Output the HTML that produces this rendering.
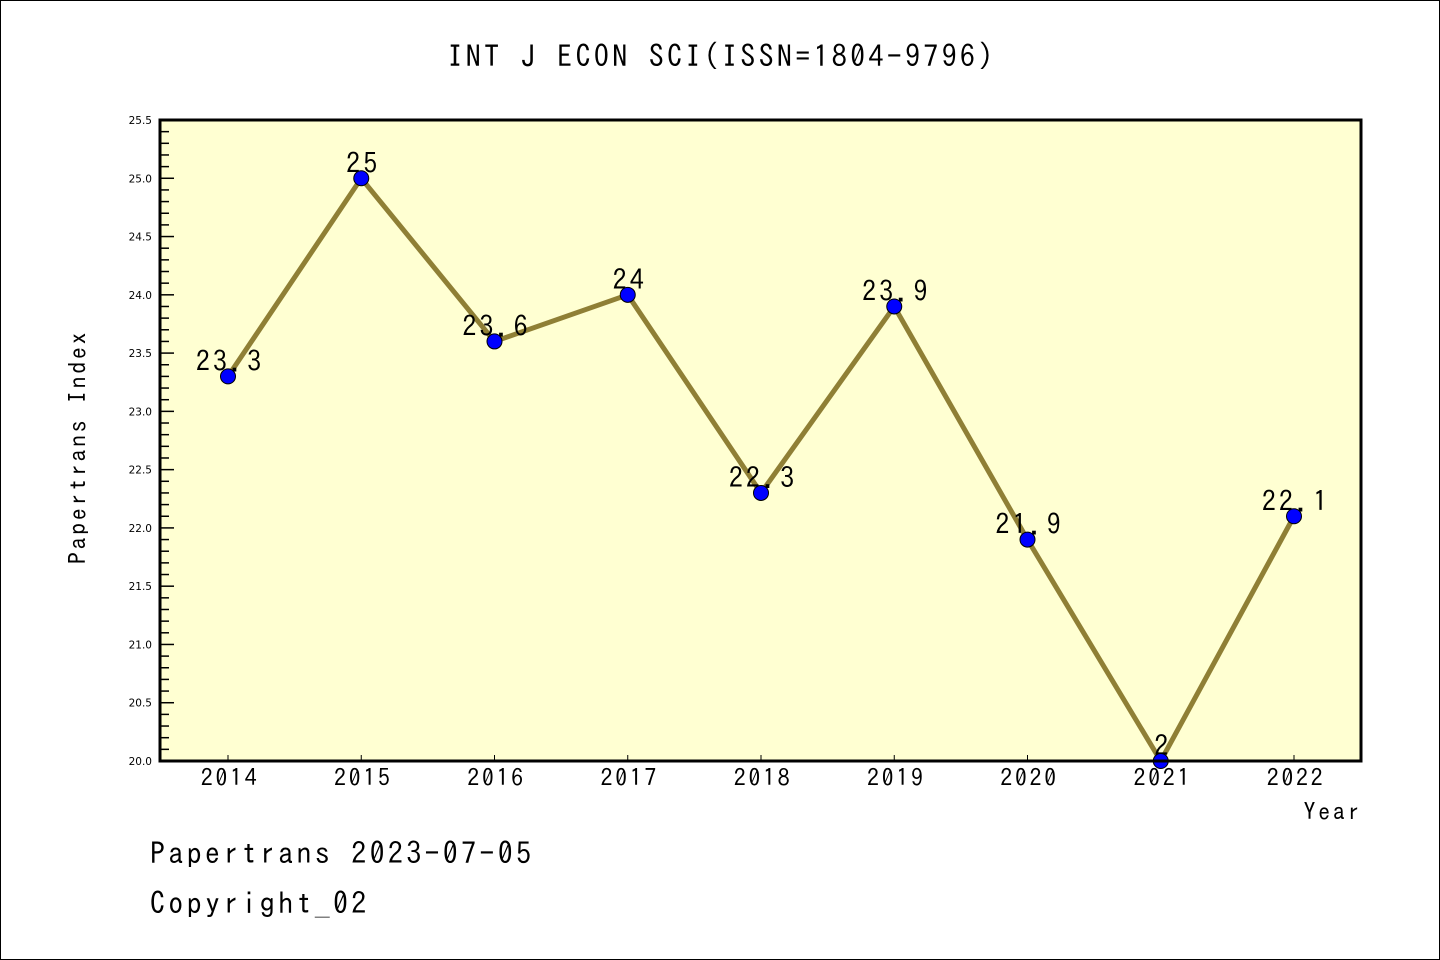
<!DOCTYPE html>
<html><head><meta charset="utf-8"><style>
html,body{margin:0;padding:0;background:#fff}
svg{display:block;font-family:"WenQuanYi Zen Hei Mono","WenQuanYi Zen Hei","IPAGothic","Liberation Sans",sans-serif}
svg text{letter-spacing:0.11em}
svg text.yl{letter-spacing:0;font-family:"DejaVu Sans","Liberation Sans",sans-serif}
</style></head><body>
<svg width="1440" height="960" viewBox="0 0 1440 960">
<rect x="0.5" y="0.5" width="1439" height="959" fill="#fff" stroke="#000"/>
<text x="722" y="67" font-size="30" text-anchor="middle">INT J ECON SCI(ISSN=1804-9796)</text>
<rect x="160" y="120" width="1201" height="641" fill="#ffffd2"/>
<g id="yaxis"></g>
<g id="xaxis"></g>
<g id="series"></g>
<rect x="160" y="120" width="1201" height="641" fill="none" stroke="#000" stroke-width="3"/>
<text x="86" y="447" font-size="24" text-anchor="middle" transform="rotate(-90 86 447)">Papertrans Index</text>
<text x="1362" y="820" font-size="24" text-anchor="end">Year</text>
<text x="150" y="864" font-size="30">Papertrans 2023-07-05</text>
<text x="150" y="914" font-size="30">Copyright_02</text>
</svg>
<script>
const years=["2014","2015","2016","2017","2018","2019","2020","2021","2022"];
const values=[23.3,25,23.6,24,22.3,23.9,21.9,20,22.1];
const valueLabels=["23.3","25","23.6","24","22.3","23.9","21.9","2","22.1"];
const yTicks=["20.0","20.5","21.0","21.5","22.0","22.5","23.0","23.5","24.0","24.5","25.0","25.5"];
const NS="http://www.w3.org/2000/svg";
const yMin=20,yMax=25.5,plotTop=120,plotBot=761;
function ys(v){return plotBot-(v-yMin)/(yMax-yMin)*(plotBot-plotTop);}
function xs(i){return 228+i*133.25;}
function mk(tag,attrs,parent){const e=document.createElementNS(NS,tag);for(const k in attrs)e.setAttribute(k,attrs[k]);parent.appendChild(e);return e;}
const ya=document.getElementById('yaxis'),xa=document.getElementById('xaxis'),se=document.getElementById('series');
for(let k=0;k<=55;k++){const v=yMin+k*0.1;const y=ys(v);const major=k%5===0;
 const t=mk('line',{x1:160,x2:major?174:169,y1:y,y2:y,stroke:'#000','stroke-width':1.5},ya);
 
 }
yTicks.forEach(s=>{const t=mk('text',{x:152,y:ys(parseFloat(s))+4,'font-size':10.5,'text-anchor':'end','class':'yl'},ya);t.textContent=s;
 
 });
years.forEach((s,i)=>{const l=mk('line',{x1:xs(i),x2:xs(i),y1:plotBot,y2:plotBot-6,stroke:'#000','stroke-width':1},xa);
 
 
 const t=mk('text',{x:xs(i)+2,y:786,'font-size':24,'text-anchor':'middle'},xa);t.textContent=s;
 
 });
const pl=mk('polyline',{points:values.map((v,i)=>xs(i)+','+ys(v)).join(' '),fill:'none',stroke:'#8f7f35','stroke-width':5},se);


values.forEach((v,i)=>{const t=mk('text',{x:xs(i)+2,y:ys(v)-5,'font-size':28,'text-anchor':'middle'},se);t.textContent=valueLabels[i];
 
 });
values.forEach((v,i)=>{const c=mk('circle',{cx:xs(i),cy:ys(v),r:7.5,fill:'#0000ff',stroke:'#000','stroke-width':1},se);
 
 });
</script>
</body></html>
